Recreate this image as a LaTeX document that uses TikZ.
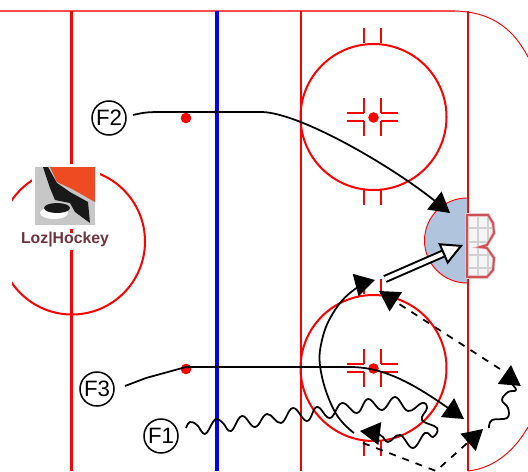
\documentclass[tikz,border=0pt]{standalone}
\usepackage{fontspec}
\setmainfont{Liberation Sans}
\usetikzlibrary{arrows.meta, backgrounds}
\definecolor{rink}{RGB}{255,0,0}
\definecolor{creaseblue}{RGB}{176,196,222}
\definecolor{goalred}{RGB}{205,80,85}
\definecolor{logoorange}{RGB}{238,75,35}
\definecolor{logotext}{RGB}{112,50,62}
\tikzset{
  rinkline/.style={draw=rink, line width=1.71pt},
  player/.style={circle, draw=black, fill=white, line width=1.3pt, minimum size=1.02cm, inner sep=0pt, font=\fontsize{19}{20}\selectfont},
  bighead/.style={-{Triangle[length=0.6cm, width=0.68cm]}},
  skate/.style={draw=black, line width=1.5pt, line join=round, bighead},
  dashskate/.style={skate, dash pattern=on 6pt off 6pt}
}
\begin{document}
\begin{tikzpicture}[x=0.03cm, y=-0.03cm, line cap=butt]
  \useasboundingbox (0,0) rectangle (528,471);
  % boards and lines
  \draw[draw=rink!70, line width=1.3pt] (0,11) -- (455,11);
  \draw[draw=rink, line width=0.8pt] (455,11) .. controls (495,12) and (515,32) .. (528,57);
  \draw[draw=rink, line width=0.8pt] (468,471) .. controls (495,468) and (515,450) .. (528,427);
  \draw[rink, line width=3.4pt] (71.5,11) -- (71.5,471);
  \draw[blue, line width=3.4pt] (216.7,11) -- (216.7,471);
  \draw[rinkline] (301,11) -- (301,471);
  \draw[rinkline] (468,11) -- (468,471);
  % crease
  \fill[creaseblue] (467,198) arc[start angle=270, end angle=90, radius=42.5];
  \draw[draw=rink, line width=0.8pt] (467,198) arc[start angle=270, end angle=90, radius=42.5];
  % face-off circles
  \begin{scope}
    \clip (12,0) rectangle (528,471);
    \draw[rinkline] (72,241.5) circle (73);
  \end{scope}
  \foreach \cy in {117,368} {
    \draw[rinkline] (373.5,\cy) circle (73);
    \fill[rink] (373.5,\cy+0.5) circle (5.3);
    \foreach \hx in {364,381} {
      \draw[rinkline] (\hx,\cy-89) -- (\hx,\cy-74);
      \draw[rinkline] (\hx,\cy+73) -- (\hx,\cy+88);
      \draw[rinkline] (\hx,\cy-19) -- (\hx,\cy-4);
      \draw[rinkline] (\hx,\cy+4) -- (\hx,\cy+19);
    }
    \foreach \hy in {-4,4} {
      \draw[rinkline] (347,\cy+\hy) -- (364,\cy+\hy);
      \draw[rinkline] (381,\cy+\hy) -- (398,\cy+\hy);
    }
  }
  \fill[rink] (186,118) circle (5.3);
  \fill[rink] (186,369) circle (5.3);
  % goal
  \draw[goalred!35, line width=3pt, fill=black!4] (467,215) -- (488,215) -- (493,223) -- (494,233) -- (487,245) -- (480,247) -- (487,248) -- (494,258) -- (493,270) -- (487,277) -- (467,277) -- cycle;
  \begin{scope}
    \clip (467,215) -- (488,215) -- (493,223) -- (494,233) -- (487,245) -- (480,247) -- (487,248) -- (494,258) -- (493,270) -- (487,277) -- (467,277) -- cycle;
    \foreach \gx in {478,488} \draw[black!18, line width=1.2pt] (\gx,213) -- (\gx,279);
    \foreach \gy in {228,242,255,268} \draw[black!18, line width=1.2pt] (467,\gy) -- (495,\gy);
  \end{scope}
  \draw[goalred, line width=1.6pt] (467,215) -- (488,215) -- (493,223) -- (494,233) -- (487,245) -- (480,247) -- (487,248) -- (494,258) -- (493,270) -- (487,277) -- (467,277) -- cycle;
  % logo
  \fill[white] (32,164) rectangle (100,229);
  \fill[white] (18,233) rectangle (112,250);
  \fill[black!22] (35,167) rectangle (95,225);
  \fill[logoorange] (50,167) -- (95,167) -- (95,202) -- (72,189) -- (57,182) -- cycle;
  \fill[white] (54,213) ellipse (14 and 6);
  \fill[black!90] (43,167) -- (48,167) -- (57,183) -- (70,192) -- (88,202) -- (90,223) -- (75,212) -- (70,203) -- (55,200) -- (50,188) -- cycle;
  \fill[black!90] (57,208) ellipse (13 and 5);
  \node[font=\fontsize{13.5}{14}\selectfont\bfseries, text=logotext, inner sep=0pt] (logo) at (65,240) {Loz|Hockey};
  % players
  \node[player] (F2) at (109,118) {F2};
  \node[player] (F3) at (97,389)  {F3};
  \node[player] (F1) at (161,436) {F1};
  \coordinate (F2s) at (133,115);
  \coordinate (F2e) at (450,213);
  \coordinate (F3s) at (125,386);
  \coordinate (F3e) at (464,419);
  \coordinate (F1s) at (186,428);
  \coordinate (F1e) at (360,431);
  \coordinate (Wvs) at (489,428);
  \coordinate (Wve) at (511,365);
  \coordinate (Cvs) at (354,433);
  \coordinate (Cve) at (375,280);
  \coordinate (Dxs) at (500,369);
  \coordinate (Dxe) at (379,291);
  \coordinate (Dys) at (363,443);
  \coordinate (Dym) at (436,471);
  \coordinate (Dye) at (483,429);
  \coordinate (Shs) at (385,279);
  \coordinate (She) at (463,245);
  % skating paths
  \draw[skate] (F2s) .. controls (145,112) and (150,112) .. (165,112) -- (262,112) .. controls (300,113) and (390,165) .. (F2e);
  \draw[skate] (F3s) -- (146,378) -- (186,367) -- (350,367) .. controls (385,367) and (415,385) .. (F3e);
  \draw[skate] plot[smooth, tension=0.7] coordinates {(F1s) (190,422) (197,425) (205,434) (213,422) (217,419) (223,423) (231,431) (242,416) (255,427) (267,414) (281,423) (293,408) (307,421) (317,407) (330,418) (342,403) (357,413) (368,399) (382,410) (395,397) (408,411) (422,403) (427,408) (422,420) (437,428) (433,437) (425,433) (413,448) (400,435) (388,442) (380,435) (F1e)};
  \draw[skate] plot[smooth, tension=0.7] coordinates {(Wvs) (492,420) (507,418) (508,408) (502,400) (508,392) (516,390) (511,381) (Wve)};
  \draw[skate] plot[smooth, tension=0.7] coordinates {(Cvs) (335,412) (321,372) (322,340) (335,310) (355,289) (Cve)};
  \draw[dashskate] (Dxs) -- (Dxe);
  \draw[dashskate] (Dys) -- (Dym) -- (Dye);
  % shot
  \draw[black, line width=1.7pt, double=white, double distance=3.6pt, -{Triangle[open, fill=white, length=0.66cm, width=0.68cm]}] (Shs) -- (She);
\end{tikzpicture}
\end{document}
